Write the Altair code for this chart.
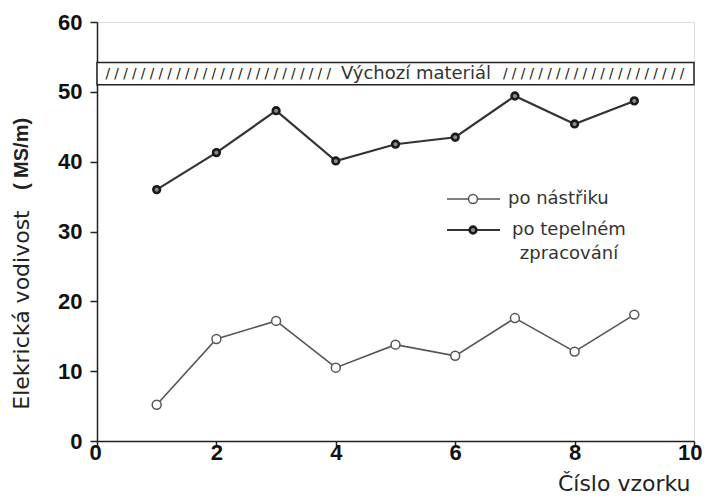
import altair as alt
import pandas as pd

# ---------------- data ----------------
samples = [1, 2, 3, 4, 5, 6, 7, 8, 9]
po_nastriku = [5.2, 14.6, 17.2, 10.5, 13.8, 12.2, 17.6, 12.8, 18.1]
po_tepelnem = [36.0, 41.3, 47.3, 40.1, 42.5, 43.5, 49.4, 45.4, 48.7]
series_names = ["po nástřiku", "po tepelném\nzpracování"]
band_low = [51.0]
band_high = [54.2]
band_label = ["Výchozí materiál"]
x_ticks = [0, 2, 4, 6, 8, 10]
y_ticks = [0, 10, 20, 30, 40, 50, 60]

# ---------------- layout ----------------
W, H = 597, 419

df = pd.DataFrame({
    "x": samples + samples,
    "y": po_nastriku + po_tepelnem,
    "s": [series_names[0]] * len(samples) + [series_names[1]] * len(samples),
})
band_df = pd.DataFrame({"y": band_low, "y2": band_high,
                        "mid": [(band_low[0] + band_high[0]) / 2],
                        "label": band_label})

xscale = alt.Scale(domain=[0, 10], nice=False, zero=False)
yscale = alt.Scale(domain=[0, 60], nice=False, zero=False)

xaxis = alt.Axis(values=x_ticks, title="Číslo vzorku", grid=False,
                 labelFont="Liberation Sans", labelFontWeight="bold", labelFontSize=22,
                 labelColor="#111", labelBaseline="middle", labelPadding=6,
                 tickSize=5, tickColor="#222", tickWidth=1.5,
                 domainColor="#222", domainWidth=1.5, labelFlush=True, labelFlushOffset=8,
                 titleFont="DejaVu Sans", titleFontWeight="normal", titleFontSize=22,
                 titleColor="#222", titleAlign="right", titleBaseline="alphabetic",
                 titleX=593, titleY=49, titleAnchor="end")
yaxis = alt.Axis(values=y_ticks, title=None, grid=False,
                 labelFont="Liberation Sans", labelFontWeight="bold", labelFontSize=22,
                 labelColor="#111", labelPadding=8,
                 tickSize=7, tickColor="#222", tickWidth=1.5,
                 domainColor="#222", domainWidth=1.5)

X = alt.X("x:Q", scale=xscale, axis=xaxis)
Y = alt.Y("y:Q", scale=yscale, axis=yaxis)

style1 = dict(line_color="#555", line_w=1.6, fill="white", stroke="#555", sw=1.5, size=80)
style2 = dict(line_color="#333", line_w=2.2, fill="#8a8a8a", stroke="#1a1a1a", sw=2.6, size=45)
styles = [style1, style2]

base = alt.Chart(df).encode(x=X, y=Y)

layers = []

# reference band "Výchozí materiál"
band = alt.Chart(band_df)
layers.append(band.mark_rect(fill="white", stroke="#222", strokeWidth=1.5).encode(
    x=alt.value(0), x2=alt.value(W), y=alt.Y("y:Q", scale=yscale, axis=yaxis), y2="y2:Q"))
layers.append(band.mark_text(font="DejaVu Sans", fontSize=13.5, align="right", baseline="middle",
                             color="#111").encode(
    x=alt.value(234), y=alt.Y("mid:Q", scale=yscale, axis=yaxis),
    text=alt.value(" ".join(["/"] * 26))))
layers.append(band.mark_text(font="DejaVu Sans", fontSize=13.5, align="left", baseline="middle",
                             color="#111").encode(
    x=alt.value(406), y=alt.Y("mid:Q", scale=yscale, axis=yaxis),
    text=alt.value(" ".join(["/"] * 21))))
layers.append(band.mark_text(font="DejaVu Sans", fontSize=18, align="center", baseline="middle",
                             color="#333").encode(
    x=alt.value(319), y=alt.Y("mid:Q", scale=yscale, axis=yaxis), text="label:N"))

# series lines + markers
for name, st in zip(series_names, styles):
    sub = base.transform_filter(alt.datum.s == name)
    layers.append(sub.mark_line(color=st["line_color"], strokeWidth=st["line_w"]))
    layers.append(sub.mark_point(shape="circle", filled=True, fill=st["fill"], stroke=st["stroke"],
                                 strokeWidth=st["sw"], size=st["size"], opacity=1))

# manual legend (pixel layout)
leg_y = [177, 208]
leg_text_x = [411, 472]
leg_text_y = [177, 208]
leg_align = ["left", "center"]
for i, (name, st) in enumerate(zip(series_names, styles)):
    ld = alt.Chart(pd.DataFrame({"s": [name]}))
    layers.append(ld.mark_rule(color=st["line_color"], strokeWidth=st["line_w"]).encode(
        x=alt.value(350), x2=alt.value(403), y=alt.value(leg_y[i])))
    layers.append(ld.mark_point(shape="circle", filled=True, fill=st["fill"], stroke=st["stroke"],
                                strokeWidth=st["sw"], size=st["size"], opacity=1).encode(
        x=alt.value(376), y=alt.value(leg_y[i])))
    layers.append(ld.mark_text(font="DejaVu Sans", fontSize=18, align=leg_align[i], baseline="middle",
                               lineBreak="\n", lineHeight=24, color="#333").encode(
        x=alt.value(leg_text_x[i]), y=alt.value(leg_text_y[i]), text="s:N"))

# y-axis title in two weights
ttl = alt.Chart(pd.DataFrame({"t": ["Elekrická vodivost", "( MS/m)"]}))
layers.append(ttl.transform_filter(alt.datum.t == "Elekrická vodivost").mark_text(
    font="DejaVu Sans", fontSize=22, angle=270, align="center", baseline="middle", color="#222").encode(
    x=alt.value(-75), y=alt.value(288), text="t:N"))
layers.append(ttl.transform_filter(alt.datum.t == "( MS/m)").mark_text(
    font="Liberation Sans", fontWeight="bold", fontSize=20, angle=270, align="center",
    baseline="middle", color="#222").encode(
    x=alt.value(-75), y=alt.value(132), text="t:N"))

chart = alt.layer(*layers).properties(
    width=W, height=H,
    autosize=alt.AutoSizeParams(type="none"),
    padding={"left": 89, "top": 14, "right": 10, "bottom": 55},
).configure_view(stroke="#222", strokeWidth=1.5).configure(background="white")

chart.save("out.html", embed_options={"renderer": "svg", "actions": False})
